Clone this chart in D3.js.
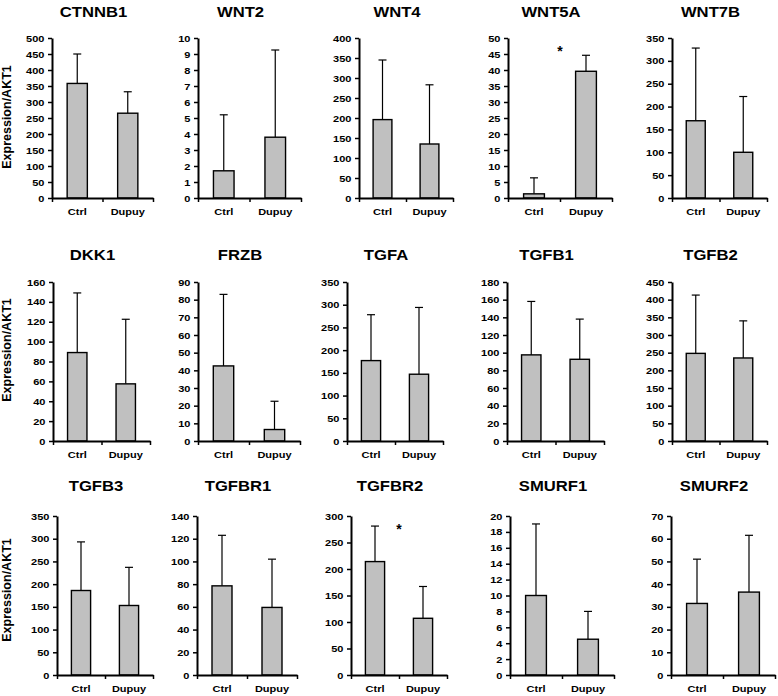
<!DOCTYPE html>
<html><head><meta charset="utf-8">
<script src="https://cdn.jsdelivr.net/npm/d3@7"></script>
<style>
html,body{margin:0;padding:0;background:#fff;}
svg{display:block;font-family:"Liberation Sans",Arial,sans-serif;font-weight:bold;}
</style></head>
<body>
<svg id="c" width="778" height="696"></svg>
<script>
// ---- data ----
const genes = ["CTNNB1","WNT2","WNT4","WNT5A","WNT7B","DKK1","FRZB","TGFA","TGFB1","TGFB2","TGFB3","TGFBR1","TGFBR2","SMURF1","SMURF2"];
const categories = ["Ctrl","Dupuy"];
const ctrlMean = [358, 1.7, 196, 1.3, 169, 89, 42.5, 177, 97.5, 248, 186, 78.5, 214, 10, 31.5];
const ctrlSD   = [92, 3.5, 149, 5, 159, 60, 40.5, 101, 60.5, 165, 107, 44.5, 67, 9, 19.5];
const dupMean  = [265, 3.8, 135, 39.6, 100, 57.5, 6.5, 147, 92.5, 235, 153, 59.5, 107, 4.5, 36.5];
const dupSD    = [67, 5.45, 148, 5, 122, 65, 16, 147, 45.5, 105, 84, 42.5, 60, 3.5, 25];
const yMax  = [500, 10, 400, 50, 350, 160, 90, 350, 180, 450, 350, 140, 300, 20, 70];
const yStep = [50, 1, 50, 5, 50, 20, 10, 50, 20, 50, 50, 20, 50, 2, 10];
const significant = [0,0,0,1,0,0,0,0,0,0,0,0,1,0,0];
const yAxisTitle = "Expression/AKT1";

// ---- layout (positions only) ----
const axisX   = [52,198,359,508,672, 53,198,347,507,672, 57,197,351,510,671];
const plotEnd = [153,301,453,612,767, 150,300,443,604,767, 153,297,447,614,775];
const rowTop    = [38, 282, 516];
const rowBottom = [198, 441, 675];
const titleBase = [17, 260, 491];
const yTitleCenter = [117, 350, 590];
const STRETCH = 1.16;

const svg = d3.select("#c");

genes.forEach((g, i) => {
  const row = Math.floor(i / 5);
  const x0 = axisX[i], x1 = plotEnd[i];
  const y = d3.scaleLinear().domain([0, yMax[i]]).range([rowBottom[row], rowTop[row]]);
  const x = d3.scaleBand().domain(categories).range([x0, x1]).paddingInner(0).paddingOuter(0);
  const xb = d3.scaleLinear().domain([0, 2]).range([x0, x1]);
  const p = svg.append("g");

  const means = [ctrlMean[i], dupMean[i]];
  const sds = [ctrlSD[i], dupSD[i]];
  const bw = x.bandwidth() * 0.4;
  const data = categories.map((c, k) => ({c, m: means[k], s: sds[k]}));

  // error bars (upper only)
  data.forEach(d => {
    const cx = x(d.c) + x.bandwidth() / 2;
    p.append("line").attr("x1", cx).attr("x2", cx)
      .attr("y1", y(d.m)).attr("y2", y(d.m + d.s))
      .attr("stroke", "#000").attr("stroke-width", 1.2);
    p.append("line").attr("x1", cx - 4).attr("x2", cx + 4)
      .attr("y1", y(d.m + d.s)).attr("y2", y(d.m + d.s))
      .attr("stroke", "#000").attr("stroke-width", 1.2);
  });
  p.selectAll("rect.bar").data(data).join("rect")
    .attr("class", "bar")
    .attr("x", d => x(d.c) + (x.bandwidth() - bw) / 2)
    .attr("width", bw)
    .attr("y", d => y(d.m))
    .attr("height", d => y(0) - y(d.m))
    .attr("fill", "#c0c0c0").attr("stroke", "#000").attr("stroke-width", 1.4);

  // y axis
  const ticks = d3.range(0, yMax[i] + yStep[i] / 2, yStep[i]);
  const ya = p.append("g").attr("transform", `translate(${x0},0)`)
    .call(d3.axisLeft(y).tickValues(ticks).tickSize(4).tickSizeOuter(0).tickPadding(2.5).tickFormat(d3.format("d")));
  ya.select(".domain").attr("stroke-width", 2);
  ya.selectAll(".tick line").attr("stroke-width", 1.5);
  ya.selectAll(".tick text").attr("font-size", 9.5).attr("font-weight", "bold")
    .attr("font-family", "Liberation Sans, Arial, sans-serif").attr("fill", "#000")
    .attr("transform", `scale(${STRETCH},1)`);

  // x axis: boundary ticks
  const xa = p.append("g").attr("transform", `translate(0,${rowBottom[row]})`)
    .call(d3.axisBottom(xb).tickValues([0, 1, 2]).tickSize(4).tickSizeOuter(0).tickFormat(""));
  xa.select(".domain").attr("stroke-width", 2);
  xa.selectAll(".tick line").attr("stroke-width", 1.5);
  // category labels
  const xl = p.append("g").attr("transform", `translate(0,${rowBottom[row]})`)
    .call(d3.axisBottom(x).tickSize(0).tickPadding(10));
  xl.select(".domain").remove();
  xl.selectAll(".tick text").attr("font-size", 9.5).attr("font-weight", "bold")
    .attr("font-family", "Liberation Sans, Arial, sans-serif").attr("fill", "#000")
    .attr("transform", `scale(${STRETCH},1)`);

  // title
  const tx = (x0 + x1) / 2 - 9;
  p.append("g").attr("transform", `translate(${tx},${titleBase[row]})`)
    .append("text").attr("text-anchor", "middle").attr("font-size", 14).attr("font-weight", "bold")
    .attr("transform", `scale(${STRETCH + 0.03},1)`).text(g);

  // significance marker
  if (significant[i]) {
    p.append("text").attr("x", (x0 + x1) / 2).attr("y", y(yMax[i] * 0.93) + 7)
      .attr("text-anchor", "middle").attr("font-size", 14).attr("font-weight", "bold").text("*");
  }

  // y axis title on first column
  if (i % 5 === 0) {
    svg.append("text").attr("transform", `translate(11,${yTitleCenter[row]}) rotate(-90)`)
      .attr("text-anchor", "middle").attr("font-size", 12.5).attr("font-weight", "bold")
      .text(yAxisTitle);
  }
});
</script>
</body></html>
